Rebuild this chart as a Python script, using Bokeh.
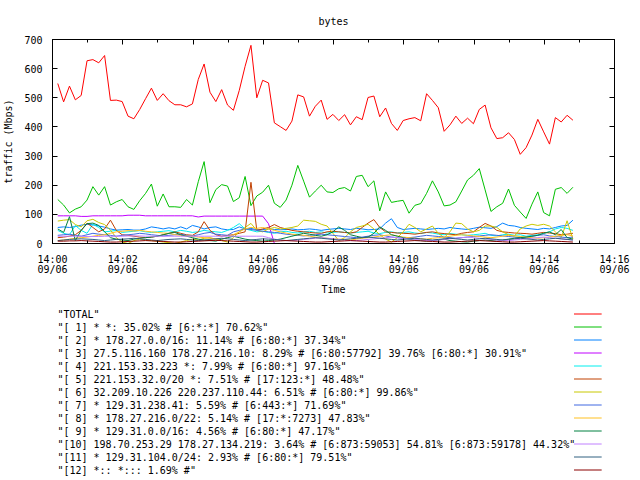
from datetime import datetime, timedelta
from bokeh.plotting import figure
from bokeh.models import (Range1d, FixedTicker, DatetimeTickFormatter, LinearAxis, DatetimeAxis,
                          CustomJSTickFormatter, CustomLabelingPolicy)
from bokeh.layouts import column
from bokeh.embed import file_html
from bokeh.resources import INLINE
from bokeh.core.properties import value

# ---------------- data (Mbps, one sample every 10 s from 14:00:09) ----------------
total = [549, 486, 540, 493, 508, 627, 631, 620, 645, 491, 492, 487, 437, 428, 460, 497, 533, 491, 514, 490, 476, 476, 469, 479,
         563, 616, 519, 487, 528, 475, 457, 525, 608, 680, 500, 560, 551, 414, 401, 388, 420, 510, 503, 437, 471, 492, 426, 443,
         422, 442, 407, 435, 425, 501, 506, 435, 465, 412, 388, 422, 428, 432, 421, 514, 491, 466, 385, 407, 437, 412, 430, 411,
         460, 475, 397, 360, 363, 380, 357, 306, 329, 372, 426, 383, 341, 432, 417, 440, 423]
s1 = [151, 132, 105, 118, 126, 149, 195, 166, 195, 132, 143, 151, 126, 117, 147, 172, 204, 128, 170, 126, 126, 124, 151, 132,
      212, 281, 140, 185, 202, 197, 144, 157, 230, 130, 163, 176, 200, 138, 124, 149, 200, 268, 214, 159, 180, 200, 177, 175,
      188, 192, 180, 230, 234, 195, 215, 112, 177, 141, 145, 148, 104, 131, 137, 172, 215, 177, 129, 132, 143, 180, 218, 234,
      257, 184, 110, 126, 138, 187, 131, 108, 86, 135, 177, 106, 95, 186, 192, 172, 193]
s2 = [55, 57, 55, 58, 63, 66, 64, 60, 56, 50, 46, 47, 48, 46, 46, 50, 57, 54, 50, 54, 50, 57, 50, 62, 57, 50, 55, 57, 50, 47,
      48, 57, 50, 52, 47, 48, 50, 48, 47, 48, 50, 47, 48, 50, 48, 45, 48, 50, 52, 50, 48, 52, 50, 47, 48, 50, 70, 85, 55, 48,
      50, 52, 50, 48, 50, 52, 50, 55, 52, 50, 48, 52, 56, 54, 52, 58, 70, 62, 60, 55, 52, 50, 48, 52, 50, 55, 60, 62, 80]
s3 = [95, 95, 95, 95, 93, 93, 95, 95, 95, 95, 95, 95, 97, 97, 97, 95, 95, 95, 95, 95, 95, 95, 95, 95, 91, 94, 94, 94, 94, 94,
      94, 94, 94, 94, 94, 94, 68, 0, 0, 0, 0, 0, 0, 0, 0, 0, 0, 0, 0, 0, 0, 0, 0, 0, 0, 0, 0, 0, 0, 0,
      0, 0, 0, 0, 0, 0, 0, 0, 0, 0, 0, 0, 0, 0, 0, 0, 0, 0, 0, 0, 0, 0, 0, 0, 0, 0, 0, 0, 0]
s4 = [45, 35, 30, 62, 45, 35, 66, 55, 40, 42, 45, 38, 40, 42, 44, 40, 38, 40, 42, 44, 40, 45, 42, 38, 40, 45, 42, 40, 38, 45,
      55, 68, 50, 45, 40, 42, 38, 35, 40, 42, 38, 36, 40, 42, 38, 40, 36, 38, 40, 38, 36, 38, 40, 42, 36, 34, 38, 40, 36, 38,
      40, 36, 34, 38, 36, 32, 30, 34, 32, 30, 28, 30, 32, 35, 28, 26, 30, 32, 28, 30, 25, 28, 30, 35, 40, 50, 55, 52, 45]
s5 = [20, 22, 25, 30, 45, 70, 55, 40, 50, 80, 45, 30, 28, 25, 22, 20, 22, 25, 30, 35, 40, 35, 30, 28, 40, 75, 45, 30, 25, 28,
      30, 35, 40, 210, 45, 50, 55, 65, 55, 50, 45, 42, 40, 38, 36, 35, 40, 42, 40, 38, 36, 40, 55, 70, 82, 55, 40, 38, 36, 35,
      34, 32, 35, 38, 40, 36, 34, 32, 30, 35, 38, 40, 55, 69, 60, 45, 40, 38, 36, 35, 34, 32, 35, 38, 36, 34, 30, 32, 35]
s6 = [77, 80, 82, 65, 57, 78, 83, 72, 65, 46, 20, 5, 0, 10, 15, 12, 10, 8, 5, 3, 0, 5, 10, 15, 12, 18, 20, 15, 10, 5,
      20, 40, 55, 69, 45, 40, 50, 55, 50, 52, 55, 60, 80, 78, 76, 66, 60, 35, 10, 20, 40, 55, 60, 66, 50, 30, 15, 5, 20, 40,
      66, 55, 40, 50, 60, 35, 20, 40, 70, 68, 50, 40, 45, 60, 60, 55, 40, 30, 25, 50, 60, 66, 62, 66, 60, 40, 20, 78, 15]
s7 = [28, 30, 32, 28, 25, 30, 35, 32, 30, 28, 25, 28, 30, 32, 35, 33, 30, 28, 26, 28, 30, 32, 28, 26, 30, 35, 38, 32, 30, 28,
      40, 45, 50, 48, 45, 42, 40, 38, 35, 32, 30, 28, 26, 28, 30, 32, 30, 28, 26, 24, 22, 20, 22, 25, 28, 30, 26, 22, 20, 18,
      20, 22, 25, 28, 26, 24, 22, 20, 18, 20, 22, 24, 26, 28, 30, 28, 26, 24, 22, 20, 22, 25, 28, 30, 26, 24, 22, 20, 22]
s8 = [10, 12, 15, 18, 20, 22, 25, 28, 30, 35, 40, 42, 44, 43, 45, 42, 40, 38, 36, 35, 30, 28, 26, 25, 22, 20, 18, 16, 15, 20,
      30, 40, 50, 55, 52, 55, 50, 45, 40, 36, 32, 30, 28, 25, 22, 20, 18, 16, 15, 14, 12, 15, 18, 20, 22, 25, 28, 30, 26, 22,
      20, 18, 16, 15, 18, 20, 22, 25, 28, 30, 28, 26, 24, 22, 20, 22, 25, 28, 26, 24, 22, 20, 18, 20, 22, 25, 28, 30, 26]
s9 = [50, 38, 92, 10, 45, 68, 70, 62, 40, 20, 15, 12, 10, 15, 18, 20, 22, 25, 30, 35, 38, 30, 25, 20, 15, 12, 10, 8, 15, 20,
      25, 20, 15, 12, 10, 8, 10, 12, 15, 20, 25, 30, 35, 32, 28, 25, 30, 40, 57, 45, 30, 25, 20, 22, 35, 57, 45, 30, 25, 20,
      15, 12, 10, 8, 10, 12, 15, 10, 8, 6, 5, 8, 10, 12, 10, 8, 12, 15, 18, 20, 22, 25, 28, 35, 40, 30, 48, 20, 15]
s10 = [25, 25, 25, 25, 25, 24, 24, 24, 25, 25, 25, 25, 26, 26, 26, 25, 25, 25, 25, 25, 25, 25, 25, 25, 25, 25, 25, 25, 25, 25,
       25, 25, 25, 25, 25, 25, 20, 15, 12, 10, 10, 12, 14, 16, 18, 20, 18, 16, 14, 12, 10, 10, 12, 14, 16, 18, 20, 22, 20, 18,
       16, 14, 12, 10, 10, 12, 14, 16, 18, 20, 22, 20, 18, 16, 14, 12, 10, 10, 12, 14, 16, 18, 20, 22, 20, 18, 16, 14, 12]
s11 = [10, 12, 14, 15, 16, 15, 14, 12, 10, 12, 14, 15, 16, 18, 16, 14, 12, 10, 12, 14, 15, 16, 14, 12, 10, 12, 14, 16, 18, 16,
       14, 12, 10, 12, 14, 16, 15, 14, 12, 10, 12, 14, 16, 18, 20, 18, 16, 14, 12, 14, 16, 18, 20, 22, 20, 18, 16, 14, 12, 14,
       16, 18, 16, 14, 12, 14, 16, 18, 16, 14, 12, 14, 16, 18, 16, 14, 12, 14, 16, 18, 16, 14, 12, 14, 16, 18, 16, 14, 12]
s12 = [8, 8, 9, 9, 10, 9, 8, 7, 6, 5, 5, 6, 7, 8, 9, 10, 9, 8, 7, 6, 5, 5, 6, 7, 8, 9, 10, 11, 10, 9,
       8, 7, 6, 5, 5, 6, 7, 8, 9, 10, 9, 8, 7, 6, 5, 5, 6, 7, 8, 9, 10, 9, 8, 7, 6, 5, 5, 6, 7, 8,
       9, 10, 9, 8, 7, 6, 5, 5, 6, 7, 8, 9, 10, 9, 8, 7, 6, 5, 5, 6, 7, 8, 9, 10, 9, 8, 7, 6, 5]

series = [total, s1, s2, s3, s4, s5, s6, s7, s8, s9, s10, s11, s12]
labels = [
    '"TOTAL"',
    '"[ 1] * *: 35.02% # [6:*:*] 70.62%"',
    '"[ 2] * 178.27.0.0/16: 11.14% # [6:80:*] 37.34%"',
    '"[ 3] 27.5.116.160 178.27.216.10: 8.29% # [6:80:57792] 39.76% [6:80:*] 30.91%"',
    '"[ 4] 221.153.33.223 *: 7.99% # [6:80:*] 97.16%"',
    '"[ 5] 221.153.32.0/20 *: 7.51% # [17:123:*] 48.48%"',
    '"[ 6] 32.209.10.226 220.237.110.44: 6.51% # [6:80:*] 99.86%"',
    '"[ 7] * 129.31.238.41: 5.59% # [6:443:*] 71.69%"',
    '"[ 8] * 178.27.216.0/22: 5.14% # [17:*:7273] 47.83%"',
    '"[ 9] * 129.31.0.0/16: 4.56% # [6:80:*] 47.17%"',
    '"[10] 198.70.253.29 178.27.134.219: 3.64% # [6:873:59053] 54.81% [6:873:59178] 44.32%"',
    '"[11] * 129.31.104.0/24: 2.93% # [6:80:*] 79.51%"',
    '"[12] *:: *::: 1.69% #"',
]
colors = ["#ff0000", "#00c000", "#0080ff", "#c000ff", "#00eeee", "#c04000", "#c8c800",
          "#4169e1", "#ffc020", "#008040", "#c080ff", "#306080", "#8b0000"]

t_first = datetime(2010, 9, 6, 14, 0, 9)
step_s = 10
x_start = datetime(2010, 9, 6, 14, 0)
x_end = datetime(2010, 9, 6, 14, 16)
y_ticks = [0, 100, 200, 300, 400, 500, 600, 700]

times = [t_first + timedelta(seconds=step_s * k) for k in range(len(total))]

EPOCH = datetime(1970, 1, 1)
def ms(dt):
    return (dt - EPOCH).total_seconds() * 1000.0

major_x = [ms(x_start + timedelta(minutes=m)) for m in range(0, 17, 2)]
minor_x = [ms(x_start + timedelta(minutes=m)) for m in range(0, 17)]

FONT = "DejaVu Sans Mono"
FS = "10px"
W = 632
BL, BR = 45, 18

p = figure(width=W, height=299, x_axis_type="datetime",
           x_range=Range1d(x_start, x_end), y_range=Range1d(0, 700),
           output_backend="svg", toolbar_location=None, title="bytes",
           min_border_left=BL, min_border_right=BR, min_border_top=39, min_border_bottom=56)
p.title.align = "center"
p.title.text_font = FONT
p.title.text_font_size = FS
p.title.text_font_style = "normal"
p.title.text_color = "black"
p.title.standoff = 26
p.grid.visible = False
p.outline_line_color = "black"
p.outline_line_width = 1
p.outline_line_alpha = 1
p.background_fill_color = "white"
p.border_fill_color = "white"

xa = p.xaxis[0]
xa.ticker = FixedTicker(ticks=major_x, minor_ticks=minor_x)
fmt = "%H:%M\n%m/%d"
xa.formatter = DatetimeTickFormatter(seconds=fmt, minsec=fmt, minutes=fmt, hourmin=fmt, hours=fmt)
xa.axis_label = "Time"
ya = p.yaxis[0]
ya.ticker = FixedTicker(ticks=y_ticks)
ya.axis_label = "traffic (Mbps)"

for ax in (xa, ya):
    ax.major_label_text_font = FONT
    ax.major_label_text_font_size = FS
    ax.major_label_text_color = "black"
    ax.axis_label_text_font = FONT
    ax.axis_label_text_font_size = FS
    ax.axis_label_text_font_style = "normal"
    ax.axis_label_text_color = "black"
    ax.axis_line_color = "black"
    ax.major_tick_line_color = "black"
    ax.minor_tick_line_color = "black"
    ax.major_tick_out = 0
    ax.major_tick_in = 5
    ax.minor_tick_out = 0
ya.minor_tick_in = 0
xa.minor_tick_in = 3
xa.major_label_text_line_height = 0.95
xa.major_label_standoff = 10
xa.axis_label_standoff = 6
ya.major_label_standoff = 10
ya.axis_label_standoff = 7

# mirrored inward ticks on the right and top edges (no labels)
ra = LinearAxis(ticker=FixedTicker(ticks=y_ticks), formatter=CustomJSTickFormatter(code="return ''"),
                major_label_policy=CustomLabelingPolicy(code="return []"),
                major_tick_in=5, major_tick_out=0, minor_tick_in=0, minor_tick_out=0,
                axis_line_color=None, major_label_standoff=0, major_tick_line_color="black")
p.add_layout(ra, "right")
ta = DatetimeAxis(ticker=FixedTicker(ticks=major_x, minor_ticks=minor_x),
                  formatter=CustomJSTickFormatter(code="return ''"),
                  major_label_policy=CustomLabelingPolicy(code="return []"),
                  major_tick_in=5, major_tick_out=0, minor_tick_in=3, minor_tick_out=0,
                  axis_line_color=None, major_label_standoff=7,
                  major_tick_line_color="black", minor_tick_line_color="black")
p.add_layout(ta, "above")

for vals, col in zip(series, colors):
    p.line(times, vals, line_color=col, line_width=1)

# ---------------- key (text left, sample line right, as in the original) ----------------
LH = 178
leg = figure(width=W, height=LH, x_range=Range1d(BL, W - BR), y_range=Range1d(LH, 0),
             output_backend="svg", toolbar_location=None,
             min_border_left=BL, min_border_right=BR, min_border_top=0, min_border_bottom=0,
             x_axis_location=None, y_axis_location=None)
leg.grid.visible = False
leg.outline_line_color = None
rows = [14.5 + 13 * k for k in range(len(labels))]
leg.text(x=[50] * len(labels), y=rows, text=labels, text_font=value(FONT),
         text_font_size=value(FS), text_baseline="middle", text_align="left", text_color="black")
leg.segment(x0=[573] * len(labels), y0=rows, x1=[601] * len(labels), y1=rows, line_color=colors, line_width=1)

layout = column(p, leg, spacing=0)
open("out.html", "w").write(file_html(layout, INLINE))
